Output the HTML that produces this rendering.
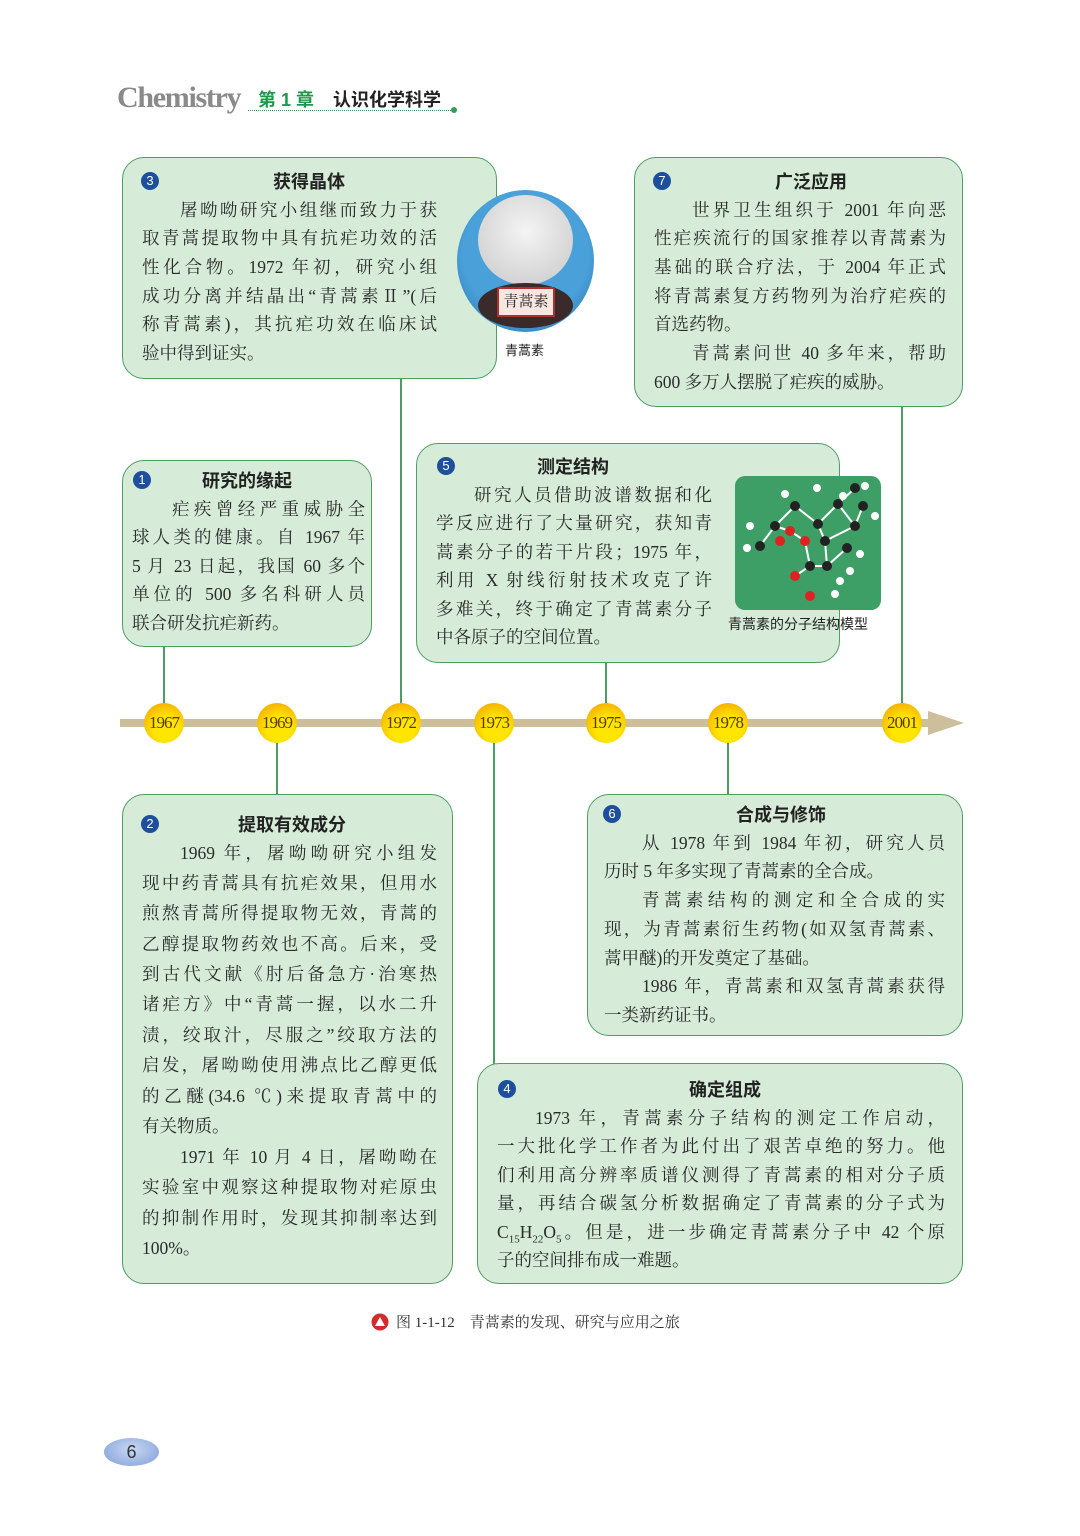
<!DOCTYPE html>
<html><head><meta charset="utf-8">
<style>
*{margin:0;padding:0;box-sizing:border-box}
body{width:1080px;height:1536px;background:#fff;position:relative;overflow:hidden;font-family:"Liberation Serif","Noto Serif CJK SC",serif;color:#222}
.box{position:absolute;background:#d6ecd9;border:1.5px solid #4d9e63;border-radius:22px}
.t{position:absolute;font-family:"Liberation Sans","Noto Sans CJK SC",sans-serif;font-weight:bold;font-size:18px;color:#222;transform:translate(-50%,-50%);white-space:nowrap}
.n{position:absolute;width:18px;height:18px;border-radius:50%;background:#1d4f9c;color:#fff;font-family:"Liberation Sans",sans-serif;font-size:13px;text-align:center;line-height:18px;transform:translate(-50%,-50%)}
.ln{position:absolute;font-size:17.5px;text-align:justify;text-align-last:justify;white-space:nowrap;height:24px;line-height:24px;transform:translateY(-50%);color:#2a2a2a}
.ln.l{text-align-last:left}
.v{position:absolute;width:2px;background:#4d9e63}
.yr{position:absolute;width:40px;height:40px;border-radius:50%;background:radial-gradient(circle at 55% 65%,#ffe600 35%,#f5b000 80%,#ee9a00 100%);font-size:17px;color:#5a3a00;text-align:center;line-height:40px;transform:translate(-50%,-50%);letter-spacing:-1px}
</style></head><body>
<div style="position:absolute;left:117px;top:81px;font-size:30px;font-weight:bold;color:#8a8a8a;font-family:'Liberation Serif',serif;letter-spacing:-1.3px">Chemistry</div>
<div style="position:absolute;left:258px;top:86px;font-size:18px;font-weight:bold;font-family:'Liberation Sans','Noto Sans CJK SC',sans-serif;color:#1a9a4a">第 1 章</div>
<div style="position:absolute;left:333px;top:86px;font-size:18px;font-weight:bold;font-family:'Liberation Sans','Noto Sans CJK SC',sans-serif;color:#222">认识化学科学</div>
<div style="position:absolute;left:248px;top:110px;width:205px;border-top:1.5px dotted #3a9a5a"></div>
<div style="position:absolute;left:451px;top:107px;width:6px;height:6px;border-radius:50%;background:#3a9a5a"></div>

<!-- connectors -->
<div class="v" style="left:163px;top:647px;height:60px"></div>
<div class="v" style="left:276px;top:740px;height:55px"></div>
<div class="v" style="left:400px;top:379px;height:326px"></div>
<div class="v" style="left:493px;top:740px;height:324px"></div>
<div class="v" style="left:605px;top:663px;height:42px"></div>
<div class="v" style="left:727px;top:740px;height:55px"></div>
<div class="v" style="left:901px;top:407px;height:298px"></div>

<!-- timeline -->
<div style="position:absolute;left:120px;top:719px;width:820px;height:8px;background:#cdbf9c"></div>
<div style="position:absolute;left:928px;top:711px;width:0;height:0;border-left:36px solid #cdbf9c;border-top:12px solid transparent;border-bottom:12px solid transparent"></div>
<div class="yr" style="left:164px;top:723px">1967</div>
<div class="yr" style="left:277px;top:723px">1969</div>
<div class="yr" style="left:401px;top:723px">1972</div>
<div class="yr" style="left:494px;top:723px">1973</div>
<div class="yr" style="left:606px;top:723px">1975</div>
<div class="yr" style="left:728px;top:723px">1978</div>
<div class="yr" style="left:902px;top:723px">2001</div>

<!-- box 3 -->
<div class="box" style="left:122px;top:157px;width:375px;height:222px"></div>
<div class="n" style="left:150px;top:181px">3</div>
<div class="t" style="left:309px;top:181px">获得晶体</div>
<div class="ln" style="left:180px;width:257px;top:210px">屠呦呦研究小组继而致力于获</div>
<div class="ln" style="left:142px;width:295px;top:238px">取青蒿提取物中具有抗疟功效的活</div>
<div class="ln" style="left:142px;width:295px;top:267px">性化合物。1972 年初，研究小组</div>
<div class="ln" style="left:142px;width:295px;top:296px">成功分离并结晶出“青蒿素Ⅱ”(后</div>
<div class="ln" style="left:142px;width:295px;top:324px">称青蒿素)，其抗疟功效在临床试</div>
<div class="ln l" style="left:142px;width:295px;top:353px">验中得到证实。</div>
<div style="position:absolute;left:457px;top:190px;width:137px;height:142px;border-radius:50%;background:radial-gradient(circle at 50% 45%,#4aa0d8 60%,#1f6fb0 100%)"></div>
<div style="position:absolute;left:478px;top:195px;width:95px;height:90px;border-radius:50%;background:radial-gradient(circle at 50% 40%,#f4f4f4,#c8c8c8)"></div>
<div style="position:absolute;left:478px;top:283px;width:95px;height:45px;border-radius:50%;background:#3a2a2a"></div>
<div style="position:absolute;left:497px;top:287px;width:58px;height:30px;background:#f6e6e0;border:2px solid #b03030;font-size:15px;text-align:center;line-height:26px;color:#222">青蒿素</div>
<div style="position:absolute;left:505px;top:340px;font-size:13px;font-family:'Liberation Sans','Noto Sans CJK SC',sans-serif">青蒿素</div>

<!-- box 7 -->
<div class="box" style="left:634px;top:157px;width:329px;height:250px"></div>
<div class="n" style="left:662px;top:181px">7</div>
<div class="t" style="left:811px;top:181px">广泛应用</div>
<div class="ln" style="left:692px;width:254px;top:210px">世界卫生组织于 2001 年向恶</div>
<div class="ln" style="left:654px;width:292px;top:238px">性疟疾流行的国家推荐以青蒿素为</div>
<div class="ln" style="left:654px;width:292px;top:267px">基础的联合疗法，于 2004 年正式</div>
<div class="ln" style="left:654px;width:292px;top:296px">将青蒿素复方药物列为治疗疟疾的</div>
<div class="ln l" style="left:654px;width:292px;top:324px">首选药物。</div>
<div class="ln" style="left:692px;width:254px;top:353px">青蒿素问世 40 多年来，帮助</div>
<div class="ln l" style="left:654px;width:292px;top:382px">600 多万人摆脱了疟疾的威胁。</div>

<!-- box 1 -->
<div class="box" style="left:122px;top:460px;width:250px;height:187px"></div>
<div class="n" style="left:142px;top:480px">1</div>
<div class="t" style="left:247px;top:480px">研究的缘起</div>
<div class="ln" style="left:172px;width:193px;top:509px">疟疾曾经严重威胁全</div>
<div class="ln" style="left:132px;width:233px;top:537px">球人类的健康。自 1967 年</div>
<div class="ln" style="left:132px;width:233px;top:566px">5 月 23 日起，我国 60 多个</div>
<div class="ln" style="left:132px;width:233px;top:594px">单位的 500 多名科研人员</div>
<div class="ln l" style="left:132px;width:233px;top:623px">联合研发抗疟新药。</div>

<!-- box 5 -->
<div class="box" style="left:416px;top:443px;width:424px;height:220px"></div>
<div class="n" style="left:446px;top:466px">5</div>
<div class="t" style="left:573px;top:466px">测定结构</div>
<div class="ln" style="left:474px;width:238px;top:495px">研究人员借助波谱数据和化</div>
<div class="ln" style="left:436px;width:276px;top:523px">学反应进行了大量研究，获知青</div>
<div class="ln" style="left:436px;width:276px;top:552px">蒿素分子的若干片段；1975 年，</div>
<div class="ln" style="left:436px;width:276px;top:580px">利用 X 射线衍射技术攻克了许</div>
<div class="ln" style="left:436px;width:276px;top:609px">多难关，终于确定了青蒿素分子</div>
<div class="ln l" style="left:436px;width:276px;top:637px">中各原子的空间位置。</div>
<div style="position:absolute;left:735px;top:476px;width:146px;height:134px;border-radius:10px;background:#3d9e66"></div>
<svg style="position:absolute;left:735px;top:476px" width="146" height="134">
<g stroke="#fff" stroke-width="2"><line x1="40" y1="50" x2="25" y2="70"/><line x1="40" y1="50" x2="55" y2="55"/><line x1="55" y1="55" x2="70" y2="65"/><line x1="70" y1="65" x2="75" y2="90"/><line x1="75" y1="90" x2="60" y2="100"/><line x1="75" y1="90" x2="92" y2="90"/><line x1="92" y1="90" x2="112" y2="72"/><line x1="92" y1="90" x2="90" y2="65"/><line x1="90" y1="65" x2="120" y2="50"/><line x1="120" y1="50" x2="128" y2="30"/><line x1="120" y1="50" x2="103" y2="28"/><line x1="103" y1="28" x2="120" y2="12"/><line x1="90" y1="65" x2="83" y2="48"/><line x1="83" y1="48" x2="103" y2="28"/><line x1="83" y1="48" x2="60" y2="30"/><line x1="60" y1="30" x2="40" y2="50"/></g>
<g fill="#222"><circle cx="40" cy="50" r="5"/><circle cx="25" cy="70" r="5"/><circle cx="60" cy="30" r="5"/><circle cx="83" cy="48" r="5"/><circle cx="75" cy="90" r="5"/><circle cx="92" cy="90" r="5"/><circle cx="90" cy="65" r="5"/><circle cx="120" cy="50" r="5"/><circle cx="128" cy="30" r="5"/><circle cx="103" cy="28" r="5"/><circle cx="120" cy="12" r="5"/><circle cx="112" cy="72" r="5"/></g>
<g fill="#d22"><circle cx="55" cy="55" r="5"/><circle cx="70" cy="65" r="5"/><circle cx="60" cy="100" r="5"/><circle cx="75" cy="120" r="5"/><circle cx="45" cy="65" r="5"/></g>
<g fill="#fff"><circle cx="15" cy="50" r="4"/><circle cx="12" cy="72" r="4"/><circle cx="50" cy="18" r="4"/><circle cx="82" cy="12" r="4"/><circle cx="108" cy="20" r="4"/><circle cx="130" cy="10" r="4"/><circle cx="140" cy="40" r="4"/><circle cx="125" cy="78" r="4"/><circle cx="105" cy="105" r="4"/><circle cx="115" cy="95" r="4"/><circle cx="100" cy="118" r="4"/></g>
</svg>
<div style="position:absolute;left:728px;top:614px;font-size:14px;font-family:'Liberation Sans','Noto Sans CJK SC',sans-serif">青蒿素的分子结构模型</div>

<!-- box 2 -->
<div class="box" style="left:122px;top:794px;width:331px;height:490px"></div>
<div class="n" style="left:150px;top:824px">2</div>
<div class="t" style="left:292px;top:824px">提取有效成分</div>
<div class="ln" style="left:180px;width:257px;top:853px">1969 年，屠呦呦研究小组发</div>
<div class="ln" style="left:142px;width:295px;top:883px">现中药青蒿具有抗疟效果，但用水</div>
<div class="ln" style="left:142px;width:295px;top:913px">煎熬青蒿所得提取物无效，青蒿的</div>
<div class="ln" style="left:142px;width:295px;top:944px">乙醇提取物药效也不高。后来，受</div>
<div class="ln" style="left:142px;width:295px;top:974px">到古代文献《肘后备急方·治寒热</div>
<div class="ln" style="left:142px;width:295px;top:1004px">诸疟方》中“青蒿一握，以水二升</div>
<div class="ln" style="left:142px;width:295px;top:1035px">渍，绞取汁，尽服之”绞取方法的</div>
<div class="ln" style="left:142px;width:295px;top:1065px">启发，屠呦呦使用沸点比乙醇更低</div>
<div class="ln" style="left:142px;width:295px;top:1096px">的乙醚(34.6 ℃)来提取青蒿中的</div>
<div class="ln l" style="left:142px;width:295px;top:1126px">有关物质。</div>
<div class="ln" style="left:180px;width:257px;top:1157px">1971 年 10 月 4 日，屠呦呦在</div>
<div class="ln" style="left:142px;width:295px;top:1187px">实验室中观察这种提取物对疟原虫</div>
<div class="ln" style="left:142px;width:295px;top:1218px">的抑制作用时，发现其抑制率达到</div>
<div class="ln l" style="left:142px;width:295px;top:1248px">100%。</div>

<!-- box 6 -->
<div class="box" style="left:587px;top:794px;width:376px;height:242px"></div>
<div class="n" style="left:612px;top:814px">6</div>
<div class="t" style="left:781px;top:814px">合成与修饰</div>
<div class="ln" style="left:642px;width:303px;top:843px">从 1978 年到 1984 年初，研究人员</div>
<div class="ln l" style="left:604px;width:341px;top:871px">历时 5 年多实现了青蒿素的全合成。</div>
<div class="ln" style="left:642px;width:303px;top:900px">青蒿素结构的测定和全合成的实</div>
<div class="ln" style="left:604px;width:341px;top:929px">现，为青蒿素衍生药物(如双氢青蒿素、</div>
<div class="ln l" style="left:604px;width:341px;top:958px">蒿甲醚)的开发奠定了基础。</div>
<div class="ln" style="left:642px;width:303px;top:986px">1986 年，青蒿素和双氢青蒿素获得</div>
<div class="ln l" style="left:604px;width:341px;top:1015px">一类新药证书。</div>

<!-- box 4 -->
<div class="box" style="left:477px;top:1063px;width:486px;height:221px"></div>
<div class="n" style="left:507px;top:1089px">4</div>
<div class="t" style="left:725px;top:1089px">确定组成</div>
<div class="ln" style="left:535px;width:410px;top:1118px">1973 年，青蒿素分子结构的测定工作启动，</div>
<div class="ln" style="left:497px;width:448px;top:1146px">一大批化学工作者为此付出了艰苦卓绝的努力。他</div>
<div class="ln" style="left:497px;width:448px;top:1175px">们利用高分辨率质谱仪测得了青蒿素的相对分子质</div>
<div class="ln" style="left:497px;width:448px;top:1203px">量，再结合碳氢分析数据确定了青蒿素的分子式为</div>
<div class="ln" style="left:497px;width:448px;top:1232px">C<sub style="font-size:11px">15</sub>H<sub style="font-size:11px">22</sub>O<sub style="font-size:11px">5</sub>。但是，进一步确定青蒿素分子中 42 个原</div>
<div class="ln l" style="left:497px;width:448px;top:1260px">子的空间排布成一难题。</div>

<!-- caption -->
<svg style="position:absolute;left:371px;top:1313px" width="18" height="18"><circle cx="9" cy="9" r="8.5" fill="#d42a2a"/><polygon points="9,4 14,13 4,13" fill="#fff"/></svg>
<div style="position:absolute;left:396px;top:1311px;font-size:15px;color:#333">图 1-1-12　青蒿素的发现、研究与应用之旅</div>

<div style="position:absolute;left:104px;top:1438px;width:55px;height:28px;border-radius:50%;background:radial-gradient(ellipse at 50% 40%,#c8d8f4,#7e9ed6);text-align:center;line-height:28px;font-family:'Liberation Sans',sans-serif;font-size:18px;color:#333">6</div>
</body></html>
